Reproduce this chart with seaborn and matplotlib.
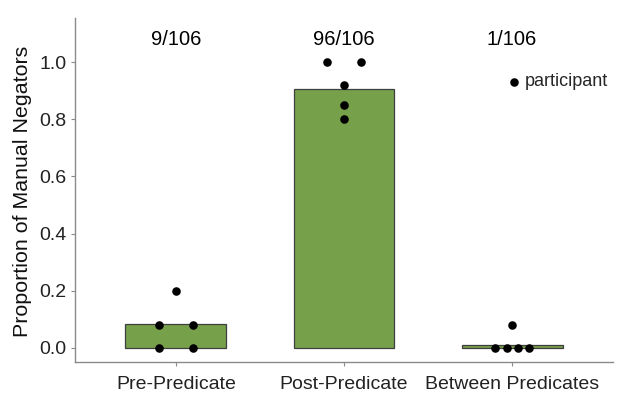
import numpy as np
import pandas as pd
import matplotlib
matplotlib.use("Agg")
import matplotlib.pyplot as plt
import seaborn as sns

# Negator placement categories and counts out of all manual negators
positions = ["Pre-Predicate", "Post-Predicate", "Between Predicates"]
negator_counts = [9, 96, 1]
total_negators = 106

# Per-participant proportions for each placement
pre_props = [0.20, 0.08, 0.08, 0.00, 0.00]
post_props = [1.00, 1.00, 0.92, 0.85, 0.80]
between_props = [0.08, 0.00, 0.00, 0.00, 0.00]

y_ticks = [0.0, 0.2, 0.4, 0.6, 0.8, 1.0]

sns.set_theme(style="white")
plt.rcParams["font.family"] = ["Liberation Sans", "DejaVu Sans"]

bar_df = pd.DataFrame({
    "position": positions,
    "proportion": [c / total_negators for c in negator_counts],
})

# Spread tied participant values evenly across a small width around the bar centre
rows = []
for i, props in enumerate([pre_props, post_props, between_props]):
    vals = np.array(props)
    for v in np.unique(vals):
        n = int(np.sum(vals == v))
        offs = np.linspace(-0.1, 0.1, n) if n > 1 else [0.0]
        for o in offs:
            rows.append({"x": i + o, "proportion": v})
pt_df = pd.DataFrame(rows)

fig = plt.figure(figsize=(6.18, 3.94), dpi=100)
ax = fig.add_axes([75 / 618, 32 / 394, 538 / 618, 344 / 394])

sns.barplot(data=bar_df, x="position", y="proportion", order=positions,
            color="#77A04A", saturation=1, edgecolor="#3f3f3f", linewidth=0.9,
            width=0.6, ax=ax)
sns.scatterplot(data=pt_df, x="x", y="proportion", color="black", s=38,
                edgecolor="black", linewidth=0, label="participant", ax=ax,
                zorder=5)

for i, c in enumerate(negator_counts):
    ax.text(i, 1.08, f"{c}/{total_negators}", ha="center", va="center",
            fontsize=14.5, color="black")

ax.set_xlim(-0.6, 2.6)
ax.set_ylim(-0.049, 1.154)
ax.set_yticks(y_ticks)
ax.set_yticklabels([f"{t:.1f}" for t in y_ticks])
ax.set_xlabel("")
ax.set_ylabel("Proportion of Manual Negators", fontsize=15.4, color="#111")
ax.yaxis.set_label_coords(-(75 - 32) / 538, (362 - 191) / 344)

for side in ["top", "right"]:
    ax.spines[side].set_visible(False)
for side in ["left", "bottom"]:
    ax.spines[side].set_color("#8a8a8a")
    ax.spines[side].set_linewidth(1.0)
ax.tick_params(axis="both", which="major", length=3, width=0.8,
               color="#8a8a8a", labelsize=14, labelcolor="#222", pad=3,
               bottom=True, left=True)
ax.tick_params(axis="x", pad=7)

leg = ax.legend(loc="center right", bbox_to_anchor=((608 - 75) / 538, (362 - 82) / 344),
                frameon=False, fontsize=13, handletextpad=0.1, borderpad=0,
                borderaxespad=0, handlelength=1.0, markerscale=1.0)

fig.savefig("out.png", dpi=100)
